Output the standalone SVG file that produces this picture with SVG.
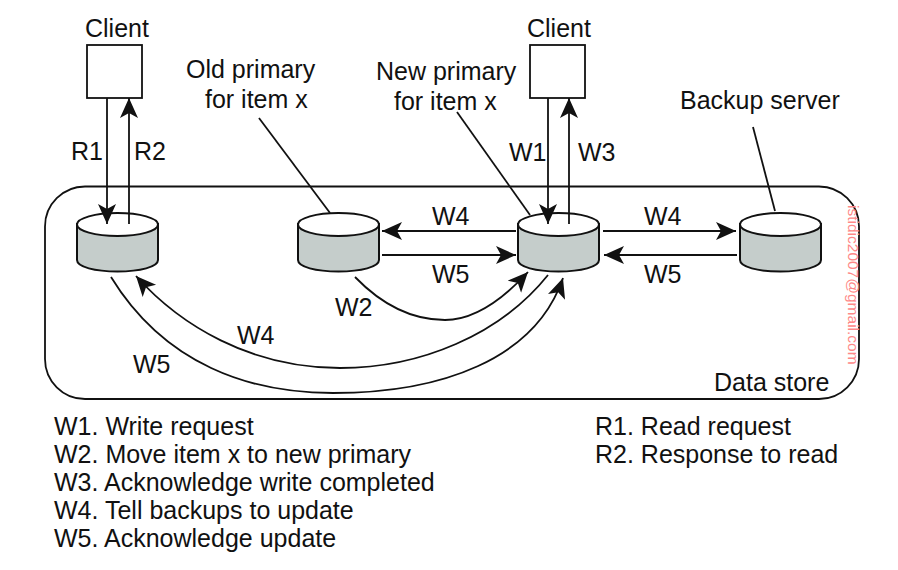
<svg xmlns="http://www.w3.org/2000/svg" width="898" height="570" viewBox="0 0 898 570">
<style>
text{font-family:"Liberation Sans",Arial,sans-serif;font-size:25px;fill:#111}
.l{fill:none;stroke:#111;stroke-width:1.8}
.a{fill:none;stroke:#111;stroke-width:1.8;marker-end:url(#ah)}
.box{fill:#fff;stroke:#111;stroke-width:1.8}
.body{fill:#c5cdcb;stroke:#111;stroke-width:2}
.top{fill:#fff;stroke:#111;stroke-width:2}
</style>
<defs>
<marker id="ah" markerUnits="userSpaceOnUse" markerWidth="24" markerHeight="24" refX="20" refY="9" orient="auto"><path d="M0 0L20 9L0 18L5 9Z" fill="#111"/></marker>
<g id="cyl"><path class="body" d="M0 11V47C0 54 18 58.500 40.500 58.500S81 54 81 47V11Z"/><ellipse class="top" cx="40.500" cy="11.500" rx="40.500" ry="11.500"/></g>
</defs>
<rect width="898" height="570" fill="#fff"/>
<g id="data-store"><rect class="l" x="45" y="186.500" width="814" height="212.500" rx="40" ry="40"/><text x="714" y="391">Data store</text></g>
<g id="client-1"><rect class="box" x="87" y="45" width="55" height="53"/><text x="85" y="37">Client</text></g>
<g id="client-2"><rect class="box" x="530" y="45" width="55" height="53"/><text x="527" y="37">Client</text></g>
<g id="store-1"><use href="#cyl" x="77" y="213"/></g>
<g id="store-old-primary"><use href="#cyl" x="298" y="213"/></g>
<g id="store-new-primary"><use href="#cyl" x="518" y="213"/></g>
<g id="store-backup"><use href="#cyl" x="740" y="213"/></g>
<g id="connectors">
<path class="a" d="M107 98V224"/>
<path class="a" d="M129 224V98"/>
<path class="a" d="M548 98V224"/>
<path class="a" d="M569 224V98"/>
<path class="l" d="M259 118L330 213"/>
<path class="l" d="M457 112L530 215"/>
<path class="l" d="M753 127L775 211"/>
<path class="a" d="M516 231H382"/>
<path class="a" d="M382 255H516"/>
<path class="a" d="M603 231H736"/>
<path class="a" d="M737 255H604"/>
<path class="a" d="M355 277C385 308 415 320 445 320C475 320 505 297 528 272"/>
<path class="a" d="M548 275C500 335 420 368 340 368C250 368 180 325 136 276"/>
<path class="a" d="M111 277C165 365 250 393 333 393C440 393 535 360 563 278"/>
</g>
<g id="labels">
<text x="71" y="160">R1</text><text x="134" y="160">R2</text>
<text x="509" y="161">W1</text><text x="578" y="161">W3</text>
<text x="186" y="78">Old primary</text><text x="205" y="108">for item x</text>
<text x="376" y="80">New primary</text><text x="394" y="110">for item x</text>
<text x="680" y="109">Backup server</text>
<text x="432" y="225">W4</text><text x="432" y="283">W5</text>
<text x="644" y="225">W4</text><text x="644" y="283">W5</text>
<text x="335" y="316">W2</text><text x="237" y="344">W4</text><text x="133" y="373">W5</text>
<text x="54" y="435">W1. Write request</text>
<text x="54" y="463">W2. Move item x to new primary</text>
<text x="54" y="491">W3. Acknowledge write completed</text>
<text x="54" y="519">W4. Tell backups to update</text>
<text x="54" y="547">W5. Acknowledge update</text>
<text x="595" y="435">R1. Read request</text>
<text x="595" y="463">R2. Response to read</text>
<text transform="translate(848 205) rotate(90)" style="font-size:15.500px;fill:#f88">istidic2007@gmail.com</text>
</g>
</svg>
